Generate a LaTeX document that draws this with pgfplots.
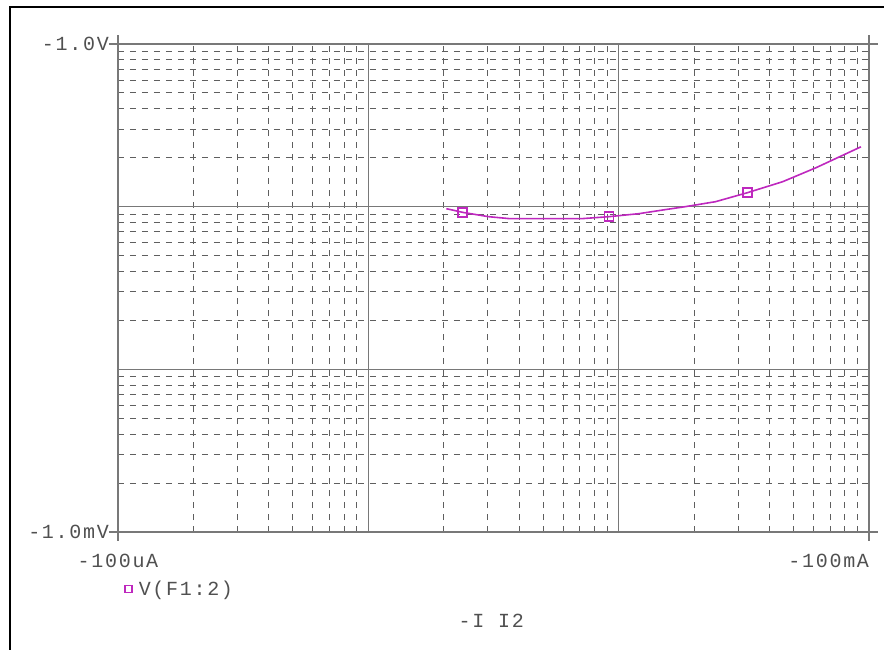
\documentclass[border=0pt]{standalone}
\usepackage{pgfplots}
\pgfplotsset{compat=1.18}
\usepackage{fontspec}
\newfontfamily\pfont{Liberation Mono}[LetterSpace=8.5]
\newcommand{\lblfont}{\pfont\fontsize{20}{24}\selectfont}
\definecolor{txt}{RGB}{80,80,80}
\definecolor{axgray}{RGB}{120,120,120}
\definecolor{grd}{RGB}{95,95,95}
\definecolor{crv}{RGB}{190,40,190}

\begin{document}
\begin{tikzpicture}
\useasboundingbox (0,0) rectangle (884pt,650pt);
% window frame (top and left edge only)
\draw[black, line width=2.5pt] (10pt,0pt) -- (10pt,643pt) -- (884pt,643pt);
\begin{axis}[
    at={(118pt,118pt)}, anchor=south west,
    width=751pt, height=488pt, scale only axis,
    xmode=log, ymode=log,
    xmin=1e-4, xmax=1e-1, ymin=1e-3, ymax=1,
    xtick={1e-4,1e-3,1e-2,1e-1},
    xticklabels={-100uA,,,\llap{-100mA}},
    ytick={1e-3,1e-2,1e-1,1},
    yticklabels={-1.0mV,,,-1.0V},
    minor xtick={2e-4,3e-4,4e-4,5e-4,6e-4,7e-4,8e-4,9e-4,
                 2e-3,3e-3,4e-3,5e-3,6e-3,7e-3,8e-3,9e-3,
                 2e-2,3e-2,4e-2,5e-2,6e-2,7e-2,8e-2,9e-2},
    minor ytick={2e-3,3e-3,4e-3,5e-3,6e-3,7e-3,8e-3,9e-3,
                 2e-2,3e-2,4e-2,5e-2,6e-2,7e-2,8e-2,9e-2,
                 2e-1,3e-1,4e-1,5e-1,6e-1,7e-1,8e-1,9e-1},
    major tick length=0pt, minor tick length=0pt,
    grid=both,
    major grid style={axgray, line width=1.4pt},
    minor grid style={grd, line width=1pt, dash pattern=on 6pt off 6pt},
    axis line style={axgray, line width=1.8pt},
    tick style={axgray, line width=1.5pt},
    extra x ticks={1e-4,1e-1}, extra x tick labels={},
    extra x tick style={grid=none, major tick length=9pt, tick align=outside},
    extra y ticks={1e-3,1}, extra y tick labels={},
    extra y tick style={grid=none, major tick length=9pt, tick align=outside},
    xticklabel style={font=\lblfont, text=txt, anchor=base, inner sep=0pt, yshift=-35pt},
    yticklabel style={font=\lblfont, text=txt, anchor=base east, inner sep=0pt, xshift=-9pt, yshift=-6pt},
    xlabel={-I I2},
    xlabel style={at={(axis description cs:0.497,-0.182)}, anchor=center, font=\lblfont, text=txt},
    legend style={at={(axis description cs:0.004,-0.117)}, anchor=west, draw=none, fill=none,
                  font=\lblfont, text=txt, inner sep=0pt},
    legend cell align=left,
    legend image code/.code={\path (0pt,0pt) (14pt,0pt);
        \draw[crv, line width=1.2pt, mark indices={1}] plot[mark=square, mark size=3.5pt] coordinates {(6.4pt,0pt)};},
]
\addplot[crv, line width=1.6pt, mark=square, mark size=4.5pt, mark indices={2,7,12},
         mark options={solid, line width=1.4pt, fill=none}] table {
x y
2.05e-3 0.0972
2.38e-3 0.0923
3.02e-3 0.0868
3.67e-3 0.0844
5.07e-3 0.0844
7.13e-3 0.0844
9.15e-3 0.0868
1.207e-2 0.0906
1.535e-2 0.0959
1.846e-2 0.1000
2.437e-2 0.1073
3.27e-2 0.1219
4.52e-2 0.1424
6.14e-2 0.1735
9.29e-2 0.2334
};
\addlegendentry{V(F1:2)}
\end{axis}
\end{tikzpicture}
\end{document}
